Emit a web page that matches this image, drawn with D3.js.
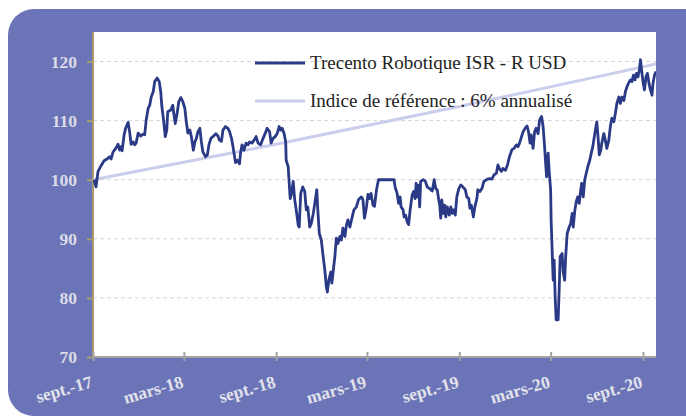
<!DOCTYPE html>
<html>
<head>
<meta charset="utf-8">
<script src="https://cdn.jsdelivr.net/npm/d3@7"></script>
<style>
  body { margin: 0; background: #fff; }
  svg { display: block; }
</style>
</head>
<body>
<div id="chart"></div>
<script>
// fund series
const fundDates = [
  '2017-09-03','2017-09-07','2017-09-11','2017-09-18','2017-09-23','2017-09-29','2017-10-04','2017-10-07','2017-10-11','2017-10-17',
  '2017-10-21','2017-10-24','2017-10-27','2017-10-29','2017-11-02','2017-11-05','2017-11-10','2017-11-13','2017-11-16','2017-11-20',
  '2017-11-23','2017-11-26','2017-11-30','2017-12-05','2017-12-10','2017-12-13','2017-12-16','2017-12-20','2017-12-23','2017-12-26',
  '2017-12-30','2018-01-02','2018-01-07','2018-01-11','2018-01-14','2018-01-16','2018-01-20','2018-01-23','2018-01-26','2018-01-28',
  '2018-02-03','2018-02-07','2018-02-09','2018-02-12','2018-02-15','2018-02-19','2018-02-23','2018-02-27','2018-03-03','2018-03-06',
  '2018-03-09','2018-03-13','2018-03-16','2018-03-20','2018-03-23','2018-03-26','2018-03-29','2018-04-02','2018-04-05','2018-04-08',
  '2018-04-13','2018-04-17','2018-04-20','2018-04-24','2018-04-28','2018-05-04','2018-05-08','2018-05-11','2018-05-15','2018-05-18',
  '2018-05-23','2018-05-28','2018-05-31','2018-06-04','2018-06-07','2018-06-09','2018-06-12','2018-06-16','2018-06-20','2018-06-22',
  '2018-06-25','2018-06-29','2018-07-03','2018-07-07','2018-07-10','2018-07-15','2018-07-19','2018-07-23','2018-07-27','2018-08-01',
  '2018-08-06','2018-08-10','2018-08-14','2018-08-19','2018-08-22','2018-08-26','2018-08-30','2018-09-03','2018-09-07','2018-09-10',
  '2018-09-13','2018-09-17','2018-09-20','2018-09-21','2018-09-25','2018-09-27','2018-09-29','2018-10-01','2018-10-05','2018-10-08',
  '2018-10-11','2018-10-15','2018-10-17','2018-10-20','2018-10-24','2018-10-28','2018-10-31','2018-11-03','2018-11-07','2018-11-10',
  '2018-11-14','2018-11-17','2018-11-21','2018-11-23','2018-11-26','2018-11-30','2018-12-03','2018-12-07','2018-12-10','2018-12-12',
  '2018-12-15','2018-12-19','2018-12-21','2018-12-24','2018-12-27','2018-12-30','2019-01-02','2019-01-06','2019-01-09','2019-01-12',
  '2019-01-16','2019-01-19','2019-01-22','2019-01-26','2019-01-30','2019-02-03','2019-02-08','2019-02-12','2019-02-18','2019-02-21',
  '2019-02-24','2019-02-28','2019-03-03','2019-03-06','2019-03-09','2019-03-13','2019-03-16','2019-03-20','2019-03-24','2019-04-05',
  '2019-04-24','2019-04-26','2019-04-30','2019-05-03','2019-05-06','2019-05-08','2019-05-12','2019-05-14','2019-05-17','2019-05-20',
  '2019-05-23','2019-05-26','2019-05-30','2019-06-02','2019-06-05','2019-06-07','2019-06-09','2019-06-12','2019-06-14','2019-06-16',
  '2019-06-21','2019-06-25','2019-06-29','2019-07-04','2019-07-09','2019-07-13','2019-07-16','2019-07-19','2019-07-22','2019-07-24',
  '2019-07-26','2019-07-28','2019-07-31','2019-08-03','2019-08-05','2019-08-08','2019-08-12','2019-08-15','2019-08-18','2019-08-21',
  '2019-08-24','2019-08-27','2019-08-31','2019-09-04','2019-09-08','2019-09-13','2019-09-16','2019-09-20','2019-09-22','2019-09-25',
  '2019-09-29','2019-10-02','2019-10-06','2019-10-08','2019-10-12','2019-10-16','2019-10-20','2019-10-27','2019-11-01','2019-11-05',
  '2019-11-09','2019-11-14','2019-11-17','2019-11-20','2019-11-24','2019-11-27','2019-12-02','2019-12-06','2019-12-10','2019-12-15',
  '2019-12-19','2019-12-24','2019-12-27','2019-12-30','2020-01-02','2020-01-06','2020-01-10','2020-01-14','2020-01-17','2020-01-20',
  '2020-01-22','2020-01-26','2020-01-29','2020-02-01','2020-02-05','2020-02-08','2020-02-12','2020-02-15','2020-02-18','2020-02-20',
  '2020-02-22','2020-02-25','2020-02-27','2020-03-01','2020-03-02','2020-03-04','2020-03-06','2020-03-08','2020-03-10','2020-03-12',
  '2020-03-16','2020-03-18','2020-03-20','2020-03-24','2020-03-26','2020-03-29','2020-03-31','2020-04-03','2020-04-07','2020-04-10',
  '2020-04-13','2020-04-15','2020-04-18','2020-04-21','2020-04-24','2020-04-27','2020-04-30','2020-05-02','2020-05-05','2020-05-08',
  '2020-05-11','2020-05-14','2020-05-18','2020-05-21','2020-05-24','2020-05-28','2020-06-01','2020-06-03','2020-06-06','2020-06-09',
  '2020-06-11','2020-06-15','2020-06-18','2020-06-21','2020-06-25','2020-06-28','2020-07-01','2020-07-05','2020-07-08','2020-07-11',
  '2020-07-15','2020-07-18','2020-07-21','2020-07-25','2020-07-28','2020-07-31','2020-08-03','2020-08-07','2020-08-10','2020-08-13',
  '2020-08-16','2020-08-19','2020-08-22','2020-08-25','2020-08-27','2020-08-29','2020-09-01','2020-09-04','2020-09-07','2020-09-10',
  '2020-09-13','2020-09-16','2020-09-19','2020-09-21','2020-09-24','2020-09-27'
];
const fundValues = [
  100.0, 98.8, 101.4, 102.5, 103.2, 103.5, 103.9, 103.5, 104.7, 105.4,
  106.0, 105.0, 105.6, 104.9, 107.6, 108.7, 109.7, 108.1, 106.0, 106.4,
  105.9, 106.2, 107.9, 107.4, 107.7, 107.6, 110.1, 112.1, 112.6, 114.0,
  114.9, 116.6, 117.2, 116.6, 114.9, 112.6, 109.8, 107.3, 108.4, 111.5,
  111.8, 112.6, 111.2, 109.5, 110.9, 113.2, 113.9, 113.2, 112.1, 109.8,
  107.9, 108.4, 107.3, 105.0, 106.4, 107.0, 108.1, 108.7, 106.4, 104.7,
  103.9, 104.2, 105.9, 107.0, 107.3, 107.8, 107.4, 106.7, 106.5, 108.4,
  109.0, 108.7, 108.2, 107.0, 105.6, 104.5, 102.9, 103.3, 102.7, 104.5,
  105.9, 105.0, 106.2, 105.9, 106.4, 106.2, 106.7, 107.3, 106.2, 105.9,
  107.0, 107.8, 108.7, 108.1, 106.2, 107.0, 107.3, 107.8, 109.0, 108.4,
  108.7, 107.8, 106.4, 103.3, 102.2, 99.4, 96.8, 97.4, 99.7, 96.6,
  94.9, 92.3, 92.0, 97.7, 98.8, 98.0, 94.9, 95.4, 92.0, 92.6,
  94.3, 96.0, 98.3, 94.9, 90.9, 89.8, 87.5, 84.7, 81.9, 81.0,
  83.0, 84.4, 82.5, 84.7, 87.0, 90.1, 89.2, 90.4, 89.8, 91.8,
  90.4, 92.3, 93.2, 92.0, 93.5, 94.9, 95.4, 96.6, 97.1, 96.6,
  93.5, 95.4, 97.5, 96.8, 97.7, 95.7, 95.5, 98.3, 100.0, 100.0,
  100.0, 98.8, 97.7, 96.0, 97.1, 95.4, 94.9, 93.7, 94.0, 92.9,
  92.4, 94.9, 97.4, 98.0, 96.8, 99.4, 97.1, 99.1, 95.4, 99.7,
  100.0, 99.8, 98.8, 98.5, 98.1, 100.0, 98.5, 98.3, 96.6, 95.7,
  93.5, 96.6, 94.3, 95.7, 93.7, 95.4, 94.0, 95.4, 94.3, 94.9,
  94.0, 97.1, 98.5, 99.1, 98.8, 98.3, 97.1, 96.8, 95.2, 95.7,
  93.7, 95.4, 96.8, 98.3, 98.0, 98.5, 99.7, 100.1, 100.2, 100.1,
  100.8, 101.1, 102.5, 101.9, 101.4, 101.9, 101.6, 102.5, 103.9, 105.1,
  105.3, 105.9, 105.6, 106.2, 107.0, 108.1, 108.7, 109.1, 108.1, 106.2,
  107.6, 105.3, 108.1, 108.7, 107.8, 110.1, 110.7, 109.0, 105.6, 102.8,
  100.5, 104.5, 101.6, 98.3, 93.2, 88.1, 83.0, 86.4, 80.2, 76.3,
  76.3, 81.3, 87.0, 87.5, 84.4, 83.0, 87.0, 90.9, 92.0, 92.6,
  94.3, 92.0, 94.6, 96.3, 97.1, 96.0, 98.3, 99.4, 97.1, 100.0,
  101.1, 102.2, 103.3, 104.5, 105.6, 107.8, 109.8, 107.8, 104.2, 105.0,
  106.2, 107.8, 106.7, 105.3, 106.7, 109.0, 110.4, 109.8, 111.2, 112.9,
  114.0, 112.9, 114.0, 113.4, 114.9, 115.7, 116.3, 116.9, 116.6, 117.7,
  116.9, 118.0, 117.4, 118.6, 120.3, 118.8, 116.6, 115.2, 117.4, 118.0,
  116.3, 115.2, 114.3, 116.3, 117.7, 118.3
];

// benchmark (6% a year), read at its yearly points
const benchDates = ['2017-09-01', '2018-09-01', '2019-09-01', '2020-09-01', '2020-09-27'];
const benchValues = [100, 106, 112.4, 119.1, 119.6];

const yTicks = [70, 80, 90, 100, 110, 120];
const xTickDates = ['2017-09-01', '2018-03-01', '2018-09-01', '2019-03-01', '2019-09-01', '2020-03-01', '2020-09-01'];
const xTickLabels = ['sept.-17', 'mars-18', 'sept.-18', 'mars-19', 'sept.-19', 'mars-20', 'sept.-20'];
const seriesNames = ['Trecento Robotique ISR - R USD', 'Indice de référence : 6% annualisé'];

const width = 686;
const height = 417;
const plot = { left: 93, top: 32, right: 656, bottom: 357 };
const navy = '#2a3a86';
const lilac = '#cacdeb';
const font = '"Liberation Serif", "DejaVu Serif", serif';

const parse = d3.timeParse('%Y-%m-%d');
const fund = fundDates.map((d, i) => ({ date: parse(d), value: fundValues[i] }));
const bench = benchDates.map((d, i) => ({ date: parse(d), value: benchValues[i] }));

const x = d3
  .scaleTime()
  .domain([parse('2017-09-01'), parse('2020-09-27')])
  .range([plot.left, plot.right]);
const y = d3.scaleLinear().domain([70, 125]).range([plot.bottom, plot.top]);

const svg = d3
  .select('#chart')
  .append('svg')
  .attr('width', width)
  .attr('height', height)
  .attr('viewBox', [0, 0, width, height]);

// purple card behind the chart
svg
  .append('rect')
  .attr('x', 8)
  .attr('y', 9)
  .attr('width', 720)
  .attr('height', 407)
  .attr('rx', 26)
  .attr('fill', '#6b74b6');

svg
  .append('rect')
  .attr('x', plot.left)
  .attr('y', plot.top)
  .attr('width', plot.right - plot.left)
  .attr('height', plot.bottom - plot.top)
  .attr('fill', '#ffffff');

svg
  .append('clipPath')
  .attr('id', 'plot-clip')
  .append('rect')
  .attr('x', plot.left)
  .attr('y', plot.top)
  .attr('width', plot.right - plot.left)
  .attr('height', plot.bottom - plot.top);

// dashed grid
svg
  .append('g')
  .selectAll('line')
  .data(yTicks.filter((t) => t > 70))
  .join('line')
  .attr('x1', plot.left)
  .attr('x2', plot.right)
  .attr('y1', (d) => y(d))
  .attr('y2', (d) => y(d))
  .attr('stroke', '#d4d4d4')
  .attr('stroke-width', 1)
  .attr('stroke-dasharray', '4,3');

// y axis
const yAxis = svg
  .append('g')
  .attr('transform', `translate(${plot.left},0)`)
  .call(d3.axisLeft(y).tickValues(yTicks).tickSize(6).tickPadding(10).tickSizeOuter(0));
yAxis.select('.domain').attr('stroke', '#a99b6f').attr('stroke-width', 2).attr('d', `M0,${plot.top}V${plot.bottom}`);
yAxis.selectAll('.tick line').attr('stroke', '#a99b6f').attr('stroke-width', 2);
yAxis
  .selectAll('.tick text')
  .attr('fill', '#dcdce8')
  .attr('font-family', font)
  .attr('font-weight', 'bold')
  .attr('font-size', 17.5);

// x axis
const xAxis = svg
  .append('g')
  .attr('transform', `translate(0,${plot.bottom})`)
  .call(
    d3
      .axisBottom(x)
      .tickValues(xTickDates.map(parse))
      .tickFormat((d, i) => xTickLabels[i])
      .tickSize(0),
  );
xAxis.select('.domain').attr('stroke', '#a3a3a3').attr('stroke-width', 2).attr('d', `M${plot.left},0H${plot.right}`);
xAxis
  .selectAll('.tick')
  .append('line')
  .attr('y1', -5)
  .attr('y2', 4)
  .attr('stroke', '#a3a3a3')
  .attr('stroke-width', 2);
xAxis
  .selectAll('.tick text')
  .attr('fill', '#e2e2ec')
  .attr('font-family', font)
  .attr('font-weight', 'bold')
  .attr('font-size', 17.5)
  .attr('text-anchor', 'end')
  .attr('dy', null)
  .attr('y', null)
  .attr('transform', 'translate(0,30) rotate(-16)');

// lines
const line = d3
  .line()
  .x((d) => x(d.date))
  .y((d) => y(d.value));

const lines = svg.append('g').attr('clip-path', 'url(#plot-clip)');
lines
  .append('path')
  .datum(bench)
  .attr('fill', 'none')
  .attr('stroke', lilac)
  .attr('stroke-width', 3)
  .attr('d', line);
lines
  .append('path')
  .datum(fund)
  .attr('fill', 'none')
  .attr('stroke', navy)
  .attr('stroke-width', 2.8)
  .attr('stroke-linejoin', 'round')
  .attr('d', line);

// legend
const legend = svg
  .append('g')
  .selectAll('g')
  .data(seriesNames)
  .join('g')
  .attr('transform', (d, i) => `translate(255,${63 + i * 38})`);
legend
  .append('line')
  .attr('x1', 0)
  .attr('x2', 50)
  .attr('stroke', (d, i) => (i === 0 ? navy : lilac))
  .attr('stroke-width', 3);
legend
  .append('text')
  .attr('x', 55)
  .attr('y', 6)
  .attr('fill', '#222')
  .attr('font-family', font)
  .attr('font-size', 19)
  .text((d) => d);
</script>
</body>
</html>
